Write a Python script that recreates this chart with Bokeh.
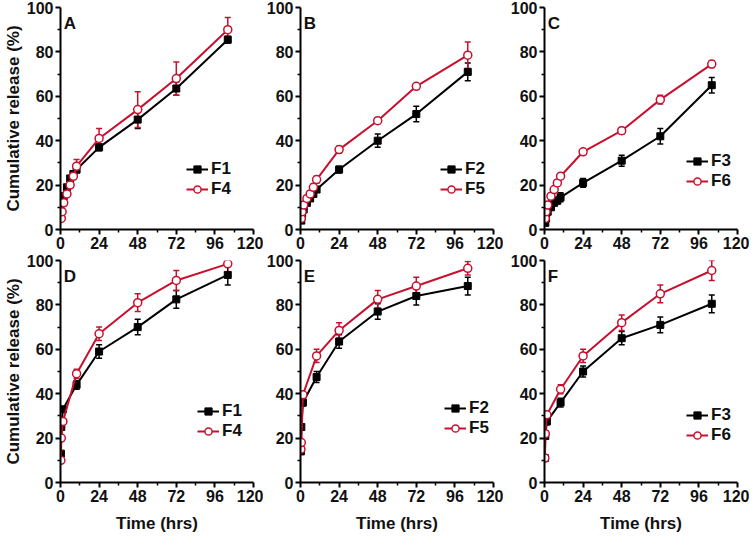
from bokeh.plotting import figure
from bokeh.models import (ColumnDataSource, Whisker, TeeHead, Range1d, FixedTicker, Label)
from bokeh.layouts import column, row
from bokeh.embed import file_html
from bokeh.resources import INLINE

# ---------------- data ----------------
t_top = [0.5, 1, 2, 4, 6, 8, 10, 24, 48, 72, 104]
t_bot = [0.25, 0.5, 1.5, 10, 24, 48, 72, 104]

# Panel A
A_F1 = [8, 12, 15, 19, 23, 25, 27, 37, 49.5, 63.5, 85.5]
A_F1_err = [0.5, 0.5, 1, 1, 1, 1, 1.5, 1.5, 4, 3, 1.5]
A_F4 = [5, 8, 12, 16, 20, 24, 28.5, 41, 54, 68, 90]
A_F4_err = [0.5, 0.5, 1, 1, 1, 1.5, 3, 4.5, 8, 7.5, 5.5]
# Panel B
B_F2 = [4, 7, 9, 12, 14, 16, 18, 27, 40, 52, 71]
B_F2_err = [0.5, 0.5, 0.5, 1, 1, 1, 1, 1.5, 3, 3.5, 4]
B_F5 = [5, 8, 11, 14, 16, 19, 22.5, 36, 49, 64.5, 78.5]
B_F5_err = [0.5, 0.5, 1, 1, 1, 1.5, 1.5, 1.5, 1, 0.8, 6]
# Panel C
C_F3 = [3, 5, 8, 10, 12, 13, 14.5, 21, 31, 42, 65]
C_F3_err = [0.5, 0.5, 0.5, 1, 1, 1.5, 2, 2, 2.5, 3.5, 3.5]
C_F6 = [5, 8, 11, 15, 18, 21, 24, 35, 44.5, 58.5, 74.5]
C_F6_err = [0.5, 0.5, 1, 1, 1, 1, 1, 1, 1.5, 2, 1.5]
# Panel D
D_F1 = [13, 25, 33, 44, 59, 70, 82.5, 93.5]
D_F1_err = [1, 1, 1, 2, 3, 3.5, 4, 4.5]
D_F4 = [10, 20, 27.5, 49, 67, 81, 91, 98.5]
D_F4_err = [0.5, 0.5, 1, 2, 3, 4, 4.5, 1]
# Panel E
E_F2 = [14, 25, 36, 47.5, 63.5, 77, 84, 88.5]
E_F2_err = [1, 1, 1.5, 2.5, 3, 3.5, 4, 4]
E_F5 = [15, 18, 39.5, 57, 68.5, 82.5, 88.5, 96.5]
E_F5_err = [0.5, 1, 1, 3, 3.5, 4, 4, 3]
# Panel F
F_F3 = [11, 21, 27.5, 36, 50, 65, 71, 80.5]
F_F3_err = [0.5, 1, 1.5, 2, 2.5, 3, 3.5, 4]
F_F6 = [11, 22, 30.5, 42, 57, 72, 85, 95.5]
F_F6_err = [0.5, 1, 1, 2, 3, 3.5, 4, 4.5]

x_ticks = [0, 24, 48, 72, 96, 120]
x_minor = [12, 36, 60, 84, 108]
y_ticks = [0, 20, 40, 60, 80, 100]
y_minor = [10, 30, 50, 70, 90]

BLACK = "#000000"
RED = "#c8102e"
FONT = "Liberation Sans"


def panel(letter, t, s1, e1, n1, s2, e2, n2, legend_xy, left_border, right_border,
          top_row, show_ylabel):
    p = figure(output_backend="svg", toolbar_location=None,
               frame_width=193, frame_height=222,
               x_range=Range1d(0, 120), y_range=Range1d(0, 100),
               min_border_left=left_border, min_border_right=right_border,
               min_border_top=7, min_border_bottom=24 if top_row else 43)
    p.outline_line_color = None
    p.xgrid.visible = False
    p.ygrid.visible = False
    p.background_fill_color = "white"
    p.border_fill_color = "white"

    for ax in (p.xaxis[0], p.yaxis[0]):
        ax.axis_line_width = 2
        ax.major_tick_line_width = 2
        ax.minor_tick_line_width = 1.5
        ax.major_tick_out = 5
        ax.major_tick_in = 0
        ax.minor_tick_out = 3
        ax.minor_tick_in = 0
        ax.major_label_text_font = FONT
        ax.major_label_text_font_style = "bold"
        ax.major_label_text_font_size = "16px"
        ax.major_label_text_color = "#111111"
        ax.major_label_standoff = 2
        ax.axis_label_text_font = FONT
        ax.axis_label_text_font_style = "bold"
        ax.axis_label_text_font_size = "17px"
        ax.axis_label_text_color = "#111111"
    p.xaxis.ticker = FixedTicker(ticks=x_ticks, minor_ticks=x_minor)
    p.yaxis.ticker = FixedTicker(ticks=y_ticks, minor_ticks=y_minor)
    if not top_row:
        p.xaxis.axis_label = "Time (hrs)"
        p.xaxis.axis_label_standoff = 9
    if show_ylabel:
        p.yaxis.axis_label = "Cumulative release (%)"
        p.yaxis.axis_label_standoff = 1

    for vals, errs, name, color, black in ((s1, e1, n1, BLACK, True), (s2, e2, n2, RED, False)):
        src = ColumnDataSource(dict(
            t=t, v=vals,
            up=[v + e for v, e in zip(vals, errs)],
            lo=[v - e for v, e in zip(vals, errs)]))
        w = Whisker(source=src, base="t", upper="up", lower="lo",
                    line_color=color, line_width=1.5,
                    upper_head=TeeHead(size=6, line_color=color, line_width=1.5),
                    lower_head=TeeHead(size=6, line_color=color, line_width=1.5))
        p.add_layout(w)
        p.line("t", "v", source=src, line_color=color, line_width=2, legend_label=name)
        if black:
            p.scatter("t", "v", source=src, marker="square", size=7,
                      fill_color=color, line_color=color, legend_label=name)
        else:
            p.scatter("t", "v", source=src, marker="circle", size=8,
                      fill_color="white", line_color=color, line_width=1.5,
                      legend_label=name)

    p.legend.location = legend_xy
    p.legend.background_fill_alpha = 0
    p.legend.border_line_alpha = 0
    p.legend.padding = 0
    p.legend.margin = 0
    p.legend.spacing = 0
    p.legend.glyph_width = 22
    p.legend.glyph_height = 18
    p.legend.label_height = 18
    p.legend.label_standoff = 3
    p.legend.label_text_font = FONT
    p.legend.label_text_font_style = "bold"
    p.legend.label_text_font_size = "17px"
    p.legend.label_text_color = "#111111"

    p.add_layout(Label(x=2, y=93, text=letter, text_font=FONT, text_font_style="bold",
                       text_font_size="17px", text_baseline="middle", text_align="left",
                       text_color="#111111"))
    return p


pA = panel("A", t_top, A_F1, A_F1_err, "F1", A_F4, A_F4_err, "F4", (126, 30), 48, 10, True, True)
pB = panel("B", t_top, B_F2, B_F2_err, "F2", B_F5, B_F5_err, "F5", (140, 30), 36, 10, True, False)
pC = panel("C", t_top, C_F3, C_F3_err, "F3", C_F6, C_F6_err, "F6", (142, 38), 41, 12, True, False)
pD = panel("D", t_bot, D_F1, D_F1_err, "F1", D_F4, D_F4_err, "F4", (137, 41), 48, 10, False, True)
pE = panel("E", t_bot, E_F2, E_F2_err, "F2", E_F5, E_F5_err, "F5", (144, 44), 36, 10, False, False)
pF = panel("F", t_bot, F_F3, F_F3_err, "F3", F_F6, F_F6_err, "F6", (142, 37), 41, 12, False, False)

layout = column(row(pA, pB, pC), row(pD, pE, pF))

open("out.html", "w").write(file_html(layout, INLINE))
